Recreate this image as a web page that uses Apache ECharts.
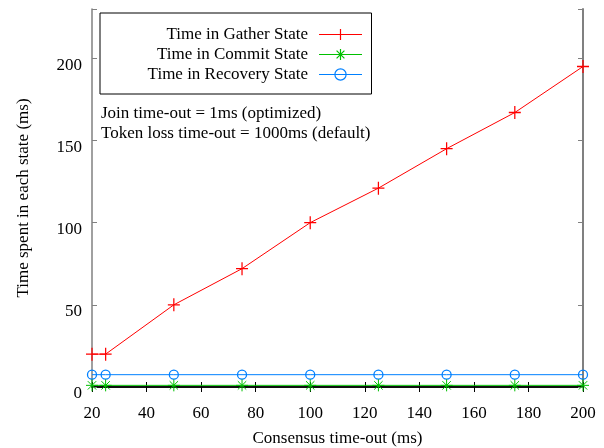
<!DOCTYPE html>
<html>
<head>
<meta charset="utf-8">
<script src="https://cdn.jsdelivr.net/npm/echarts@6/dist/echarts.min.js"></script>
<style>html,body{margin:0;padding:0;background:#fff}#c{width:604px;height:448px}</style>
</head>
<body>
<div id="c"></div>
<script>
const timeouts = [20, 25, 50, 75, 100, 125, 150, 175, 200];
const gatherTime = [20, 20, 50, 72, 100, 121, 145, 167, 195];
const commitTime = [1, 1, 1, 1, 1, 1, 1, 1, 1];
const recoveryTime = [7.5, 7.5, 7.5, 7.5, 7.5, 7.5, 7.5, 7.5, 7.5];
const seriesNames = ['Time in Gather State', 'Time in Commit State', 'Time in Recovery State'];
const notes = ['Join time-out = 1ms (optimized)', 'Token loss time-out = 1000ms (default)'];
const xTitle = 'Consensus time-out (ms)';
const yTitle = 'Time spent in each state (ms)';

const FONT = '"Liberation Serif", "DejaVu Serif", serif';
const plusPath = 'path://M0,5L10,5M5,0L5,10';
const starPath = 'path://M0,5L10,5M5,0L5,10M1.5,1.5L8.5,8.5M8.5,1.5L1.5,8.5';
const ringPath = 'path://M10,5A5,5 0 1 1 0,5A5,5 0 1 1 10,5Z';

function pairs(ys) { return timeouts.map((x, i) => [x, ys[i]]); }

const chart = echarts.init(document.getElementById('c'), null, {renderer: 'canvas'});
const yFmt = v => (v % 50 === 0 ? '{v|' + v + '}' : '');
chart.setOption({
  animation: false,
  backgroundColor: '#fff',
  grid: {left: 92, right: 21, top: 9, bottom: 61, containLabel: false, outerBoundsMode: 'none'},
  xAxis: [{
    type: 'value', min: 20, max: 200, interval: 20,
    name: xTitle, nameLocation: 'middle', nameGap: 43,
    nameTextStyle: {fontFamily: FONT, fontSize: 17, color: '#000'},
    axisLine: {lineStyle: {color: '#000', width: 1.5}},
    axisTick: {inside: true, length: 5, lineStyle: {color: '#000'}},
    axisLabel: {fontFamily: FONT, fontSize: 17, color: '#000', margin: 18},
    splitLine: {show: false}
  }, {
    type: 'value', position: 'top', min: 20, max: 200, interval: 20,
    axisLine: {lineStyle: {color: '#000', width: 1.5}},
    axisTick: {inside: true, length: 5, lineStyle: {color: '#000'}},
    axisLabel: {show: false}, splitLine: {show: false}
  }],
  yAxis: [{
    type: 'value', min: 0, max: 230, interval: 50,
    name: yTitle, nameLocation: 'middle', nameGap: 60, nameRotate: 90,
    nameTextStyle: {fontFamily: FONT, fontSize: 17, color: '#000'},
    axisLine: {show: true, lineStyle: {color: '#808080', width: 1.5}},
    axisTick: {show: true, inside: true, length: 5, lineStyle: {color: '#808080'}},
    axisLabel: {
      fontFamily: FONT, fontSize: 17, color: '#000', margin: 10, formatter: yFmt,
      rich: {v: {fontFamily: FONT, fontSize: 17, color: '#000', padding: [14, 0, 0, 0]}}
    },
    splitLine: {show: false}
  }, {
    type: 'value', position: 'right', min: 0, max: 230, interval: 50,
    axisLine: {show: true, lineStyle: {color: '#808080', width: 2}},
    axisTick: {show: true, inside: true, length: 5, lineStyle: {color: '#808080'}},
    axisLabel: {show: false}, splitLine: {show: false}
  }],
  legend: {
    left: 100, top: 13, orient: 'vertical', align: 'right',
    padding: [13, 9, 11, 8], itemGap: 3, itemWidth: 43, itemHeight: 14,
    borderColor: '#000', borderWidth: 1,
    lineStyle: {width: 1},
    itemStyle: {borderWidth: 1.2},
    data: seriesNames,
    formatter: n => '{t|' + n + '}',
    textStyle: {
      fontFamily: FONT, fontSize: 17, color: '#000',
      rich: {t: {fontFamily: FONT, fontSize: 17, color: '#000', width: 200, lineHeight: 17, align: 'right', padding: [0, 6, 0, 0]}}
    }
  },
  graphic: notes.map((t, i) => ({
    type: 'text', left: 101, top: 105 + i * 20,
    style: {text: t, fontFamily: FONT, fontSize: 17, fill: '#000'}
  })),
  series: [{
    name: seriesNames[0], type: 'line', data: pairs(gatherTime),
    symbol: plusPath, symbolSize: [12, 13],
    lineStyle: {color: '#ff0000', width: 1},
    itemStyle: {color: 'rgba(0,0,0,0)', borderColor: '#ff0000', borderWidth: 1.3},
    z: 5
  }, {
    name: seriesNames[1], type: 'line', data: pairs(commitTime),
    symbol: starPath, symbolSize: 12,
    lineStyle: {color: '#00c000', width: 1},
    itemStyle: {color: 'rgba(0,0,0,0)', borderColor: '#00c000', borderWidth: 1},
    z: 4
  }, {
    name: seriesNames[2], type: 'line', data: pairs(recoveryTime),
    symbol: ringPath, symbolSize: 9,
    lineStyle: {color: '#0080ff', width: 1},
    itemStyle: {color: 'rgba(0,0,0,0)', borderColor: '#0080ff', borderWidth: 1.3},
    z: 3
  }]
});
</script>
</body>
</html>
